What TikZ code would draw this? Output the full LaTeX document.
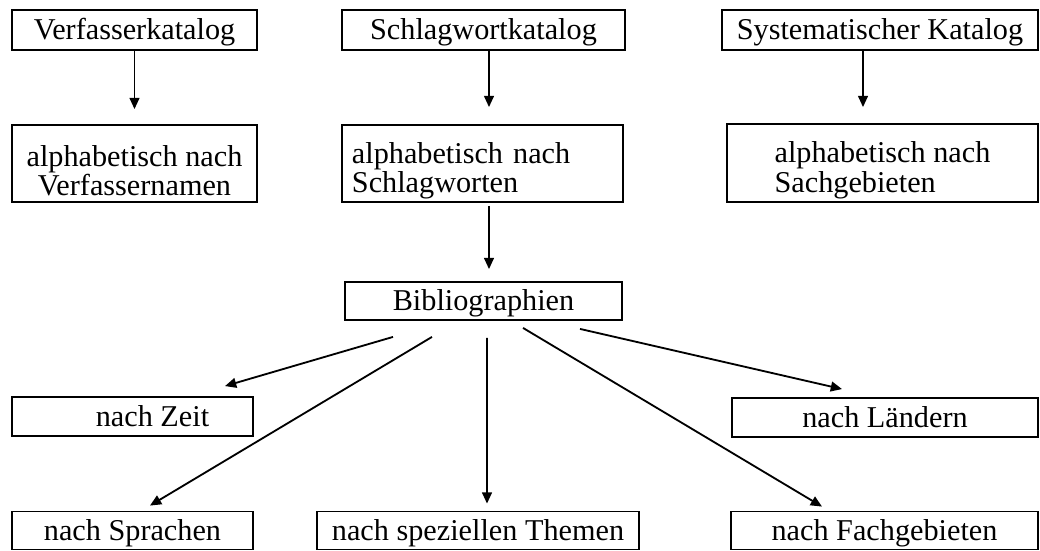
\documentclass[tikz,border=0pt]{standalone}
\usepackage{fontspec}
\setmainfont{Liberation Serif}
\usepackage{tikz}
\usetikzlibrary{arrows.meta,calc}

\newcommand{\oben}{\rule{0pt}{25pt}}

\begin{document}
\begin{tikzpicture}[x=0.025cm, y=-0.025cm,
    kasten/.style={draw, line width=1.3pt, inner sep=0pt, minimum height=1cm,
      text depth=1pt, font={\fontsize{21.5}{21}\selectfont}},
    pfeil/.style={-{Triangle[length=8pt,width=7pt]}, line width=1.3pt}]
        \useasboundingbox (0,0) rectangle (1040,551);

        % obere Reihe: Kataloge
        \node[kasten, minimum width=6.125cm] (verf) at (134.5,30) {Verfasserkatalog};
        \node[kasten, minimum width=7.075cm] (schlag) at (483.5,30) {Schlagwortkatalog};
        \node[kasten, minimum width=7.9cm] (syst) at (880,30) {Systematischer Katalog};

        % Ordnung der Kataloge
        \node[kasten, minimum width=6.125cm, minimum height=1.925cm, align=center, text depth=]
          (verfnamen) at (134.5,163.5) {\oben alphabetisch nach\\Verfassernamen};
        \node[kasten, minimum width=7.025cm, minimum height=1.925cm, align=left, text depth=,
          text width=6.525cm] (schlagworte) at (482.5,163.5) {\oben alphabetisch nach\\Schlagworten};
        \node[kasten, minimum width=7.775cm, minimum height=1.95cm, align=left, text depth=]
          (sachgeb) at (882.5,163) {\oben alphabetisch nach\\Sachgebieten};

        \node[kasten, minimum width=6.925cm, minimum height=0.95cm] (biblio) at (483.5,301) {Bibliographien};

        % untere Reihen
        \node[kasten, minimum width=6.025cm, minimum height=0.975cm] (zeit) at (132.5,416.5) {\hspace*{1cm}nach Zeit};
        \node[kasten, minimum width=7.65cm, minimum height=0.975cm] (laender) at (885,417.5) {nach Ländern};
        \node[kasten, minimum width=6.025cm, minimum height=0.95cm] (sprachen) at (132.5,530.5) {nach Sprachen};
        \node[kasten, minimum width=8.05cm, minimum height=0.95cm] (themen) at (478,530.5) {nach speziellen Themen};
        \node[kasten, minimum width=7.675cm, minimum height=0.95cm] (fach) at (884.5,530.5) {nach Fachgebieten};

        \draw[pfeil, shorten >=0.375cm] (verf.south) -- (verfnamen.north);
        \draw[pfeil] ($(schlag.south)+(5.5,0)$) -- ($(schlagworte.north)+(6.5,-17)$);
        \draw[pfeil] ($(syst.south)+(-17,0)$) -- ($(sachgeb.north)+(-19.5,-16)$);
        \draw[pfeil] ($(schlagworte.south)+(6.5,3)$) -- ($(biblio.north)+(5.5,-12)$);

        % Verzweigung der Bibliographien
        \draw[pfeil] ($(biblio.south)+(-90.5,16)$) -- ($(zeit.north)+(92.5,-10)$);
        \draw[pfeil] ($(biblio.south)+(-51.5,16)$) -- ($(sprachen.north)+(17.5,-5)$);
        \draw[pfeil] ($(biblio.south)+(3.5,17)$) -- ($(themen.north)+(9,-7)$);
        \draw[pfeil] ($(biblio.south)+(39.5,7)$) -- ($(fach.north)+(-62.5,-4)$);
        \draw[pfeil] ($(biblio.south)+(96.5,8)$) -- ($(laender.north)+(-43,-8)$);
\end{tikzpicture}
\end{document}
